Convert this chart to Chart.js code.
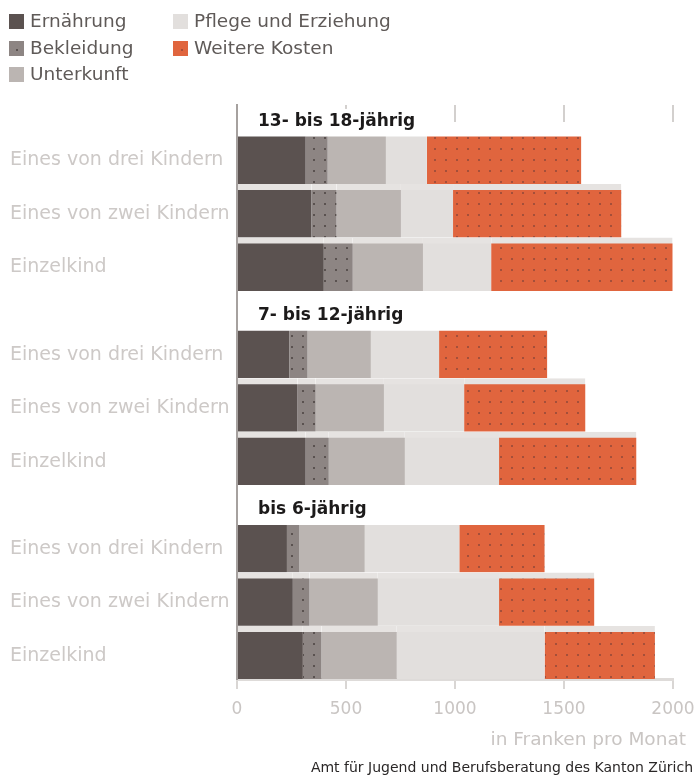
<!DOCTYPE html>
<html lang="de">
<head>
<meta charset="utf-8">
<title>Kosten eines Kindes</title>
<script src="https://cdn.jsdelivr.net/npm/chart.js@4/dist/chart.umd.min.js"></script>
<style>
  html, body { margin: 0; background: #fff; }
  canvas { display: block; }
</style>
</head>
<body>
<canvas id="chart" width="696" height="775"></canvas>
<script>
const FONT = '"DejaVu Sans", "Noto Sans", sans-serif';

const altersgruppen = ['13- bis 18-jährig', '7- bis 12-jährig', 'bis 6-jährig'];
const kinder = ['Eines von drei Kindern', 'Eines von zwei Kindern', 'Einzelkind'];
const kostenarten = ['Ernährung', 'Bekleidung', 'Unterkunft', 'Pflege und Erziehung', 'Weitere Kosten'];

// Franken pro Monat; Reihenfolge: 13–18, 7–12, bis 6 Jahre, jeweils drei / zwei Kinder / Einzelkind
const ernaehrung = [315, 342, 398, 241, 278, 315, 229, 256, 302];
const bekleidung = [101, 115, 133, 83, 83, 106, 58, 77, 86];
const unterkunft = [267, 295, 322, 290, 313, 349, 299, 313, 345];
const pflege = [188, 239, 313, 313, 368, 432, 434, 556, 678];
const weitere = [708, 772, 832, 496, 556, 630, 391, 437, 506];

const xTicks = [0, 500, 1000, 1500, 2000];

// Zeilenpositionen auf der y-Achse, mit etwas Luft für die Gruppentitel
const GRUPPEN_ABSTAND = 3.63;
const zeilen = altersgruppen.flatMap((g, gi) => kinder.map((k, ki) => gi * GRUPPEN_ABSTAND + ki));

const canvas = document.getElementById('chart');
const ctx2d = canvas.getContext('2d');

function punktMuster(grund, punkt) {
  const kachel = document.createElement('canvas');
  kachel.width = 11;
  kachel.height = 11;
  const g = kachel.getContext('2d');
  g.fillStyle = grund;
  g.fillRect(0, 0, 11, 11);
  g.fillStyle = punkt;
  g.fillRect(5, 5, 2, 2);
  return ctx2d.createPattern(kachel, 'repeat');
}

const serien = [ernaehrung, bekleidung, unterkunft, pflege, weitere];
const fuellungen = [
  '#5b5250',
  punktMuster('#8d8583', '#5a5250'),
  '#bbb5b2',
  '#e2dfdd',
  punktMuster('#e0653e', '#a44f3a'),
];

const beschriftung = {
  id: 'beschriftung',
  afterDraw(chart) {
    const { ctx, chartArea, scales } = chart;
    ctx.save();

    // Legende in zwei Spalten
    const legende = [
      [9, 21], [9, 48], [9, 74], [173, 21], [173, 48],
    ];
    ctx.font = `18.5px ${FONT}`;
    ctx.textBaseline = 'middle';
    ctx.textAlign = 'left';
    kostenarten.forEach((name, i) => {
      const [lx, ly] = legende[i];
      ctx.fillStyle = fuellungen[i];
      ctx.fillRect(lx, ly - 7, 15, 15);
      ctx.fillStyle = '#5f5a58';
      ctx.fillText(name, lx + 21, ly + 1);
    });

    // kurze Skalenstriche oben
    ctx.strokeStyle = '#d3d0ce';
    ctx.lineWidth = 2;
    xTicks.slice(1).forEach(v => {
      const x = Math.round(scales.x.getPixelForValue(v));
      ctx.beginPath();
      ctx.moveTo(x, chartArea.top);
      ctx.lineTo(x, chartArea.top + 17);
      ctx.stroke();
    });

    // Gruppentitel über den Balken
    ctx.font = `bold 17px ${FONT}`;
    ctx.textBaseline = 'alphabetic';
    altersgruppen.forEach((titel, gi) => {
      const y = scales.y.getPixelForValue(zeilen[gi * 3]) - 31.5;
      const x = chartArea.left + 21;
      const w = ctx.measureText(titel).width;
      ctx.fillStyle = '#fff';
      ctx.fillRect(x - 4, y - 17, w + 8, 23);
      ctx.fillStyle = '#1c1a1a';
      ctx.fillText(titel, x, y);
    });

    // Achsentitel und Quelle
    ctx.textAlign = 'right';
    ctx.textBaseline = 'middle';
    ctx.font = `18.5px ${FONT}`;
    ctx.fillStyle = '#c9c5c3';
    ctx.fillText('in Franken pro Monat', 686, 740);
    ctx.font = `14px ${FONT}`;
    ctx.fillStyle = '#2a2727';
    ctx.fillText('Amt für Jugend und Berufsberatung des Kanton Zürich', 693, 768);

    ctx.restore();
  },
};

new Chart(canvas, {
  type: 'bar',
  data: {
    datasets: kostenarten.map((label, i) => ({
      label,
      data: serien[i].map((x, j) => ({ x, y: zeilen[j] })),
      backgroundColor: fuellungen[i],
      borderColor: c => (c.dataIndex % 3 === 0 ? 'rgba(0,0,0,0)' : '#e6e3e1'),
      borderWidth: { top: 6, right: 0, bottom: 0, left: 0 },
      borderSkipped: false,
      barThickness: 53,
      stack: 'kosten',
    })),
  },
  plugins: [beschriftung],
  options: {
    indexAxis: 'y',
    responsive: false,
    animation: false,
    layout: { padding: { top: 105, left: 10, right: 23, bottom: 0 } },
    plugins: {
      legend: { display: false },
      tooltip: { enabled: false },
    },
    scales: {
      x: {
        type: 'linear',
        min: 0,
        max: 2000,
        stacked: true,
        afterBuildTicks: s => { s.ticks = xTicks.map(value => ({ value })); },
        // Platz unter der Achse für Zahlen, Achsentitel und Quelle
        afterFit: s => {
          s.height = 96;
          s.paddingLeft = 0;
          s.paddingRight = 0;
        },
        grid: { drawOnChartArea: false, tickLength: 10, color: '#d9d6d4', lineWidth: 2 },
        border: { color: '#dedbd9', width: 3 },
        ticks: {
          color: '#c9c5c3',
          font: { family: FONT, size: 17 },
          padding: 10,
          maxRotation: 0,
          callback: v => String(v),
        },
      },
      y: {
        type: 'linear',
        min: -0.98,
        max: 9.75,
        reverse: true,
        offset: false,
        afterBuildTicks: s => { s.ticks = zeilen.map(value => ({ value })); },
        afterFit: s => { s.width = 227; },
        grid: { display: false, offset: false },
        border: { color: '#a6a19f', width: 2 },
        ticks: {
          autoSkip: false,
          crossAlign: 'far',
          labelOffset: 3,
          color: '#cdc9c7',
          font: { family: FONT, size: 19 },
          callback: (v, i) => kinder[i % 3],
        },
      },
    },
  },
});
</script>
</body>
</html>
